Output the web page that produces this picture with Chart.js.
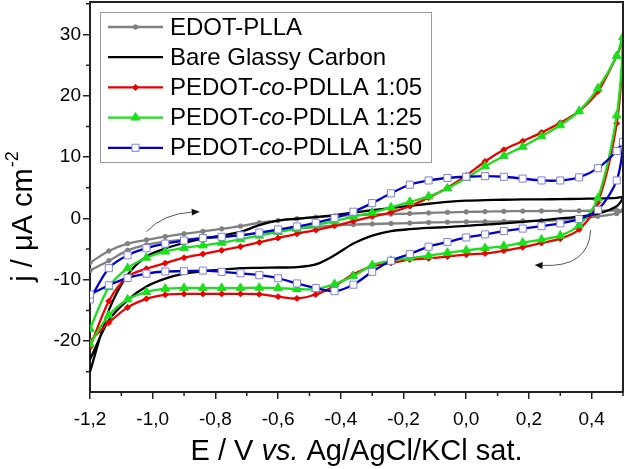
<!DOCTYPE html>
<html>
<head>
<meta charset="utf-8">
<script src="https://cdn.jsdelivr.net/npm/chart.js@4/dist/chart.umd.min.js"></script>
<style>
  html, body { margin: 0; padding: 0; background: #fff; }
</style>
</head>
<body>
<canvas id="cv" width="625" height="469"></canvas>
<script>
// potential grid (V) for the anodic and the cathodic sweep
const eForward = [-1.2, -1.14, -1.08, -1.02, -0.96, -0.9, -0.84, -0.78, -0.72, -0.66, -0.6, -0.54, -0.48, -0.42, -0.36,
    -0.3, -0.24, -0.18, -0.12, -0.06, 0, 0.06, 0.12, 0.18, 0.24, 0.3, 0.36, 0.42, 0.48, 0.5];
const eReverse = [0.48, 0.42, 0.36, 0.3, 0.24, 0.18, 0.12, 0.06, 0, -0.06, -0.12, -0.18, -0.24, -0.3, -0.36,
    -0.42, -0.48, -0.54, -0.6, -0.66, -0.72, -0.78, -0.84, -0.9, -0.96, -1.02, -1.08, -1.14, -1.2];

// current density (uA cm-2)
const edotFwd = [-7.2, -5.3, -4.1, -3.5, -2.95, -2.5, -2.1, -1.7, -1.25, -0.7, -0.35, -0.05, 0.22, 0.4, 0.54,
    0.63, 0.71, 0.8, 0.9, 1.0, 1.07, 1.12, 1.16, 1.2, 1.22, 1.24, 1.25, 1.27, 1.3, 1.3];
const edotRev = [0.8, 0.35, 0.0, -0.25, -0.35, -0.42, -0.48, -0.52, -0.55, -0.6, -0.65, -0.75, -0.82, -0.9, -1.0,
    -1.15, -1.4, -1.65, -1.95, -2.4, -2.7, -2.95, -3.15, -3.45, -3.8, -4.3, -5.2, -6.9, -8.5];

const bareFwd = [-25, -15, -9.2, -6.2, -4.9, -4.0, -3.3, -2.8, -2.2, -1.1, -0.35, -0.05, 0.22, 0.55, 0.95,
    1.35, 1.7, 2.05, 2.4, 2.7, 2.9, 3.0, 3.05, 3.1, 3.12, 3.15, 3.2, 3.25, 3.35, 3.45];
const bareRev = [2.0, 0.8, 0.3, 0.0, -0.3, -0.55, -0.8, -1.0, -1.2, -1.4, -1.55, -1.75, -2.05, -2.8, -4.1,
    -6.0, -7.5, -7.95, -8.0, -8.05, -8.1, -8.35, -8.6, -9.0, -9.8, -11.1, -13.3, -16.6, -23];

const p105Fwd = [-21, -13.5, -9.5, -8.2, -7.3, -6.4, -5.8, -5.2, -4.6, -3.9, -3.2, -2.5, -1.9, -1.2, -0.45,
    0.3, 1.0, 2.0, 3.4, 5.0, 7.0, 9.3, 11.2, 12.6, 14.0, 15.6, 17.5, 20.7, 26.5, 28.8];
const p105Rev = [15.5, 2.6, -1.8, -3.3, -4.0, -4.7, -5.25, -5.7, -5.9, -6.2, -6.5, -6.7, -7.25, -7.8, -9.1,
    -11.0, -12.4, -13.05, -12.75, -12.35, -12.3, -12.3, -12.3, -12.3, -12.45, -13.1, -14.5, -17.0, -20];

const p125Fwd = [-18, -11.2, -8.1, -6.4, -5.4, -4.8, -4.4, -3.95, -3.4, -2.8, -2.2, -1.7, -1.1, -0.45, 0.3,
    0.95, 1.8, 2.7, 3.6, 4.9, 6.6, 8.5, 10.2, 11.7, 13.4, 15.2, 17.5, 21.2, 26.5, 29.6];
const p125Rev = [16.8, 3.3, -1.1, -2.8, -3.45, -3.95, -4.5, -4.85, -5.2, -5.6, -6.1, -6.45, -6.9, -7.6, -9.4,
    -10.7, -11.5, -11.5, -11.35, -11.3, -11.35, -11.35, -11.35, -11.35, -11.45, -12.0, -13.2, -15.8, -20.5];

const p150Fwd = [-13.2, -8.1, -6.0, -4.85, -4.1, -3.6, -3.2, -3.0, -2.75, -2.3, -1.8, -1.3, -0.7, 0.05, 1.1,
    2.5, 4.1, 5.5, 6.2, 6.6, 6.8, 6.9, 6.8, 6.5, 6.2, 6.2, 6.7, 8.2, 11.0, 12.5];
const p150Rev = [6.2, 1.4, -0.1, -0.8, -1.25, -1.65, -2.05, -2.6, -3.1, -3.85, -4.6, -5.8, -6.9, -8.7, -10.8,
    -11.85, -11.35, -10.6, -9.75, -9.25, -8.95, -8.7, -8.5, -8.6, -8.65, -9.0, -9.7, -10.9, -12.4];

const seriesNames = ['EDOT-PLLA', 'Bare Glassy Carbon', 'PEDOT-co-PDLLA 1:05', 'PEDOT-co-PDLLA 1:25', 'PEDOT-co-PDLLA 1:50'];

// sweep direction arrows: start, control, tip (data units)
const arrows = [
    [[-1.02, -2.15], [-0.965, 0.8], [-0.85, 1.1]],
    [[0.397, -1.9], [0.39, -8.0], [0.218, -7.6]]
];

function loop(fwd, rev) {
    return eForward.map((x, i) => ({x: x, y: fwd[i]}))
        .concat(eReverse.map((x, i) => ({x: x, y: rev[i]})));
}

const styles = [
    {color: '#808080', point: 'circle', r: 2.2, bg: '#808080', bc: '#808080', order: 5},
    {color: '#000000', point: false, r: 0, bg: '#000', bc: '#000', order: 4},
    {color: '#ee0000', point: 'rectRot', r: 3, bg: '#ee0000', bc: '#ee0000', order: 3},
    {color: '#19e019', point: 'triangle', r: 5, bg: '#19e019', bc: '#19e019', order: 2},
    {color: '#0000cc', point: 'rect', r: 5, bg: '#ffffff', bc: '#7f7fe6', order: 1}
];
const loops = [loop(edotFwd, edotRev), loop(bareFwd, bareRev), loop(p105Fwd, p105Rev),
    loop(p125Fwd, p125Rev), loop(p150Fwd, p150Rev)];

const datasets = loops.map((d, i) => ({
    label: seriesNames[i],
    data: d,
    showLine: true,
    borderColor: styles[i].color,
    borderWidth: 2.3,
    tension: 0.3,
    pointStyle: styles[i].point,
    pointRadius: styles[i].r,
    pointBackgroundColor: styles[i].bg,
    pointBorderColor: styles[i].bc,
    pointBorderWidth: 1,
    order: styles[i].order
}));

const FONT = '"Liberation Sans", Arial, sans-serif';

function isMajor(scale, v) {
    return scale.axis === 'x' ? Math.round(v * 10) % 2 === 0 : Math.round(v) % 10 === 0;
}

function drawMixed(ctx, parts, x, y, size) {
    // parts: [text, italic]
    let widths = parts.map(p => {
        ctx.font = (p[1] ? 'italic ' : '') + size + 'px ' + FONT;
        return ctx.measureText(p[0]).width;
    });
    let cx = x;
    parts.forEach((p, i) => {
        ctx.font = (p[1] ? 'italic ' : '') + size + 'px ' + FONT;
        ctx.fillText(p[0], cx, y);
        cx += widths[i];
    });
    return widths.reduce((a, b) => a + b, 0);
}

const decorations = {
    id: 'decorations',
    afterDatasetsDraw(chart) {
        const ctx = chart.ctx;
        const a = chart.chartArea;
        const xs = chart.scales.x, ys = chart.scales.y;
        ctx.save();

        // frame top / right
        ctx.strokeStyle = '#222';
        ctx.lineWidth = 2;
        ctx.beginPath();
        ctx.moveTo(a.left, a.top);
        ctx.lineTo(a.right, a.top);
        ctx.lineTo(a.right, a.bottom);
        ctx.stroke();

        // minor ticks (shorter than the major ones)
        ctx.lineWidth = 1.5;
        ctx.beginPath();
        xs.ticks.forEach(t => {
            if (!isMajor(xs, t.value)) {
                const px = xs.getPixelForValue(t.value);
                ctx.moveTo(px, a.bottom);
                ctx.lineTo(px, a.bottom + 4);
            }
        });
        ys.ticks.forEach(t => {
            if (!isMajor(ys, t.value)) {
                const py = ys.getPixelForValue(t.value);
                ctx.moveTo(a.left, py);
                ctx.lineTo(a.left - 4, py);
            }
        });
        ctx.stroke();

        // arrows
        arrows.forEach(ar => {
            const p0 = [xs.getPixelForValue(ar[0][0]), ys.getPixelForValue(ar[0][1])];
            const pc = [xs.getPixelForValue(ar[1][0]), ys.getPixelForValue(ar[1][1])];
            const p1 = [xs.getPixelForValue(ar[2][0]), ys.getPixelForValue(ar[2][1])];
            const ang = Math.atan2(p1[1] - pc[1], p1[0] - pc[0]);
            const back = [p1[0] - 8 * Math.cos(ang), p1[1] - 8 * Math.sin(ang)];
            ctx.strokeStyle = '#555';
            ctx.lineWidth = 1;
            ctx.beginPath();
            ctx.moveTo(p0[0], p0[1]);
            ctx.quadraticCurveTo(pc[0], pc[1], back[0], back[1]);
            ctx.stroke();
            ctx.fillStyle = '#111';
            ctx.beginPath();
            ctx.moveTo(p1[0], p1[1]);
            ctx.lineTo(back[0] + 3.5 * Math.sin(ang), back[1] - 3.5 * Math.cos(ang));
            ctx.lineTo(back[0] - 3.5 * Math.sin(ang), back[1] + 3.5 * Math.cos(ang));
            ctx.closePath();
            ctx.fill();
        });

        // legend
        ctx.fillStyle = '#fff';
        ctx.fillRect(100.5, 12.5, 331, 150);
        ctx.strokeStyle = '#999';
        ctx.lineWidth = 1;
        ctx.strokeRect(100.5, 12.5, 331, 150);
        ctx.textBaseline = 'middle';
        ctx.textAlign = 'left';
        seriesNames.forEach((name, i) => {
            const y = 27 + i * 30.2;
            const st = styles[i];
            ctx.strokeStyle = st.color;
            ctx.lineWidth = 2.3;
            ctx.beginPath();
            ctx.moveTo(108, y);
            ctx.lineTo(163, y);
            ctx.stroke();
            if (st.point) {
                ctx.fillStyle = st.bg;
                ctx.strokeStyle = st.bc;
                ctx.lineWidth = 1;
                Chart.helpers.drawPoint(ctx, {pointStyle: st.point, radius: st.r, borderWidth: 1}, 135.5, y);
            }
            ctx.fillStyle = '#000';
            const m = name.match(/^(PEDOT-)(co)(-.*)$/);
            if (m) {
                drawMixed(ctx, [[m[1], false], [m[2], true], [m[3], false]], 170, y + 1, 24);
            } else {
                drawMixed(ctx, [[name, false]], 170, y + 1, 24);
            }
        });

        // x title
        ctx.fillStyle = '#000';
        ctx.textBaseline = 'alphabetic';
        const xParts = [['E / V ', false], ['vs.', true], [' Ag/AgCl/KCl sat.', false]];
        let tw = 0;
        xParts.forEach(p => {
            ctx.font = (p[1] ? 'italic ' : '') + '29px ' + FONT;
            tw += ctx.measureText(p[0]).width;
        });
        drawMixed(ctx, xParts, (a.left + a.right) / 2 - tw / 2, 460, 29);

        // y title
        ctx.translate(32, 217);
        ctx.rotate(-Math.PI / 2);
        ctx.font = '29px ' + FONT;
        const main = 'j / \u03bcA cm';
        const wm = ctx.measureText(main).width;
        ctx.font = '18px ' + FONT;
        const ws = ctx.measureText('-2').width;
        const x0 = -(wm + ws) / 2;
        ctx.font = '29px ' + FONT;
        ctx.fillText(main, x0, 0);
        ctx.font = '18px ' + FONT;
        ctx.fillText('-2', x0 + wm + 1, -14);

        ctx.restore();
    }
};

new Chart(document.getElementById('cv'), {
    type: 'scatter',
    data: {datasets: datasets},
    options: {
        responsive: false,
        animation: false,
        devicePixelRatio: 1,
        layout: {autoPadding: false, padding: {top: 2, right: 2, left: 0, bottom: 0}},
        plugins: {legend: {display: false}, tooltip: {enabled: false}},
        scales: {
            x: {
                type: 'linear',
                min: -1.2,
                max: 0.5,
                afterFit: s => { s.height = 77; s.paddingLeft = 0; s.paddingRight = 0; },
                border: {color: '#222', width: 2},
                grid: {
                    drawOnChartArea: false, tickLength: 7, lineWidth: 1.5,
                    color: c => (c.tick && isMajor(c.scale, c.tick.value) ? '#222' : 'rgba(0,0,0,0)')
                },
                ticks: {
                    stepSize: 0.1,
                    includeBounds: false,
                    autoSkip: false,
                    maxRotation: 0,
                    padding: 9,
                    color: '#000',
                    font: {family: FONT, size: 19},
                    callback: v => {
                        const t = Math.round(v * 10);
                        return t % 2 === 0 ? (t / 10).toFixed(1).replace('.', ',') : '';
                    }
                }
            },
            y: {
                min: -28.3,
                max: 35.3,
                afterFit: s => { s.width = 90; s.paddingTop = 0; s.paddingBottom = 0; },
                border: {color: '#222', width: 2},
                grid: {
                    drawOnChartArea: false, tickLength: 7, lineWidth: 1.5,
                    color: c => (c.tick && isMajor(c.scale, c.tick.value) ? '#222' : 'rgba(0,0,0,0)')
                },
                ticks: {
                    stepSize: 5,
                    includeBounds: false,
                    autoSkip: false,
                    padding: 2,
                    color: '#000',
                    font: {family: FONT, size: 19},
                    callback: v => (Math.round(v) % 10 === 0 ? String(Math.round(v)) : '')
                }
            }
        }
    },
    plugins: [decorations]
});
</script>
</body>
</html>
